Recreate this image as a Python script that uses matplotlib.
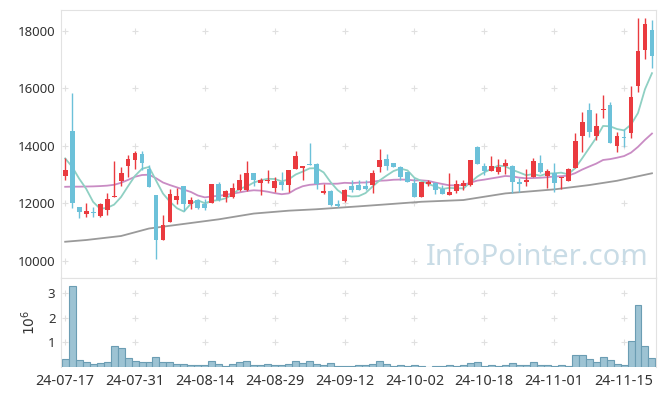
import numpy as np
import matplotlib
matplotlib.use('Agg')
import matplotlib.pyplot as plt
import pandas as pd

plt.rcParams['font.family'] = ['Noto Sans', 'DejaVu Sans']

# daily candles, 24-07-17 .. 24-11-21 (85 trading days)
opens = [12947, 14503, 11895, 11637, 11684, 11556, 11778, 12222, 12784, 13298,
         13509, 13719, 13216, 12281, 10737, 11345, 12105, 12596, 11988, 12129,
         11965, 12012, 12666, 12222, 12222, 12479, 12456, 13064, 12713, 12771,
         12537, 12748, 12655, 13216, 13251, 13368, 13368, 12362, 12420, 11988,
         12081, 12596, 12631, 12620, 12631, 13275, 13544, 13415, 13275, 13099,
         12713, 12222, 12690, 12713, 12514, 12292, 12432, 12596, 12631, 13977,
         13298, 13134, 13099, 13310, 13302, 12756, 12756, 12930, 13395, 12965,
         13046, 12872, 12791, 13221, 14349, 15256, 14349, 15233, 15430, 14000,
         14326, 14465, 16070, 17326, 18047]
highs = [13567, 15848, 11895, 12012, 11871, 12012, 12363, 13474, 13252, 13684,
         13836, 13836, 13333, 12281, 11602, 12515, 12550, 12596, 12222, 12164,
         12164, 12667, 12748, 12479, 12713, 13041, 13462, 13064, 12900, 13158,
         12924, 13100, 13158, 13836, 13310, 14094, 13415, 12666, 12456, 12128,
         12514, 12830, 12807, 12800, 13158, 13883, 13719, 13415, 13298, 13099,
         12900, 12748, 12807, 12748, 12631, 13064, 12807, 12830, 13509, 14000,
         13392, 13649, 13532, 13532, 13337, 12872, 13186, 13570, 13686, 13186,
         13395, 12930, 13221, 14442, 15174, 15489, 15140, 15779, 15512, 14500,
         14581, 16070, 18454, 18454, 18396]
lows = [12807, 11836, 11485, 11520, 11520, 11520, 11614, 12222, 12597, 12924,
        13216, 13181, 12573, 10059, 10737, 11345, 11965, 11754, 11812, 11812,
        11777, 12012, 12081, 12046, 12198, 12432, 12432, 12596, 12280, 12713,
        12397, 12479, 12397, 13216, 12830, 13333, 12514, 12339, 11929, 11894,
        12046, 12397, 12456, 12460, 12362, 13099, 13158, 13275, 12807, 12748,
        12222, 12222, 12596, 12315, 12315, 12292, 12362, 12456, 12596, 13368,
        12982, 13134, 13041, 13041, 12349, 12407, 12604, 12930, 13046, 12523,
        12407, 12500, 12791, 13221, 13802, 14326, 14209, 14965, 14093, 13802,
        13977, 14267, 15861, 17024, 16710]
closes = [13158, 12012, 11696, 11754, 11660, 11965, 12164, 12257, 13076, 13544,
          13766, 13392, 12573, 10737, 11263, 12339, 12269, 11988, 12105, 11836,
          11860, 12666, 12128, 12420, 12549, 12807, 13064, 12807, 12807, 12807,
          12771, 12655, 13158, 13649, 13310, 13333, 12690, 12420, 11952, 11929,
          12456, 12456, 12479, 12490, 13064, 13509, 13298, 13275, 12924, 12748,
          12222, 12748, 12748, 12479, 12339, 12397, 12690, 12713, 13509, 13368,
          13134, 13298, 13275, 13392, 12756, 12674, 12814, 13477, 13105, 13128,
          12721, 12930, 13186, 14174, 14826, 14500, 14698, 15279, 14116, 14349,
          14267, 15698, 17291, 18256, 17140]
# volume in millions of shares
volumes = [0.34, 3.29, 0.30, 0.18, 0.11, 0.14, 0.18, 0.84, 0.75, 0.38,
           0.22, 0.18, 0.18, 0.42, 0.18, 0.18, 0.10, 0.10, 0.07, 0.07,
           0.07, 0.26, 0.11, 0.03, 0.10, 0.18, 0.26, 0.07, 0.07, 0.10,
           0.07, 0.07, 0.10, 0.22, 0.15, 0.22, 0.10, 0.07, 0.14, 0.03,
           0.03, 0.03, 0.07, 0.07, 0.10, 0.22, 0.10, 0.02, 0.07, 0.03,
           0.07, 0.03, 0.00, 0.03, 0.03, 0.07, 0.03, 0.07, 0.14, 0.18,
           0.03, 0.07, 0.03, 0.07, 0.14, 0.07, 0.07, 0.18, 0.07, 0.07,
           0.03, 0.07, 0.03, 0.50, 0.50, 0.34, 0.18, 0.42, 0.30, 0.10,
           0.07, 1.07, 2.50, 0.84, 0.38]

# moving average values before enough days are in the window
ma5_head = [13567, 13275, 12865, 12514]
ma20_head = [12580, 12585, 12585, 12590, 12595, 12605, 12620, 12650, 12720, 12820,
             12930, 12990, 13000, 12880, 12730, 12640, 12560, 12480, 12400]
# long moving average (read at a few days)
ma_long_idx = [0, 3, 8, 12, 17, 22, 27, 32, 36, 42, 46, 51, 57, 63, 70, 75, 79, 84]
ma_long = [10670, 10730, 10870, 11130, 11290, 11450, 11650, 11750, 11800, 11900,
           11970, 12060, 12120, 12350, 12490, 12640, 12790, 13050]

tick_idx = [0, 10, 20, 30, 40, 50, 60, 70, 80]
tick_labels = ['24-07-17', '24-07-31', '24-08-14', '24-08-29', '24-09-12',
               '24-10-02', '24-10-18', '24-11-01', '24-11-15']
price_ticks = [10000, 12000, 14000, 16000, 18000]
vol_ticks = [1, 2, 3]

o = np.array(opens)
h = np.array(highs)
l = np.array(lows)
c = np.array(closes)
x = np.arange(len(c))

ma5 = pd.Series(c).rolling(5).mean().to_numpy()
ma5[:4] = ma5_head
ma20 = pd.Series(c).rolling(20).mean().to_numpy()
ma20[:19] = ma20_head

fig = plt.figure(figsize=(6.65, 3.96), dpi=100)
ax = fig.add_axes([0.0917, 0.298, 0.895, 0.677])
axv = fig.add_axes([0.0917, 0.0735, 0.895, 0.2245], sharex=ax)

red = '#ea3a3f'
blue = '#6cc1d9'
up = c >= o
col = np.where(up, red, blue)

# grid crosses
for a, ys in ((ax, price_ticks), (axv, vol_ticks)):
    gx, gy = np.meshgrid(tick_idx, ys)
    a.plot(gx.ravel(), gy.ravel(), '+', color='#e0e0e0', ms=4, mew=0.8, zorder=0)

ax.plot(ma_long_idx, ma_long, color='#9a9a9a', lw=1.3, zorder=1)
ax.plot(x, ma20, color='#c98cc4', lw=1.3, zorder=1)
ax.plot(x, ma5, color='#8fd0c3', lw=1.3, zorder=1)

ax.vlines(x, l, h, colors=col, lw=1.0, zorder=2)
body = np.abs(c - o)
body = np.maximum(body, 40)
ax.bar(x, body, bottom=np.minimum(o, c), width=0.7, color=col, zorder=3)

ax.text(0.987, 0.048, 'InfoPointer.com', transform=ax.transAxes, ha='right',
        va='baseline', fontsize=21, color='#c9dce6', zorder=0)

ax.set_xlim(-0.6, 84.6)
ax.set_ylim(9410, 18730)
ax.set_yticks(price_ticks)
ax.set_yticklabels([str(v) for v in price_ticks])

axv.bar(x, volumes, width=1.0, color='#9dc3d3', edgecolor='#6b9db3', lw=0.8)
axv.set_ylim(0, 3.62)
axv.set_yticks(vol_ticks)
axv.set_ylabel('$10^6$', fontsize=10, color='#333333', labelpad=6)
axv.set_xticks(tick_idx)
axv.set_xticklabels(tick_labels)

for a in (ax, axv):
    for s in a.spines.values():
        s.set_color('#e2e2e2')
    a.tick_params(length=0, labelsize=9.5, colors='#333333', pad=4)
ax.tick_params(labelbottom=False)
axv.tick_params(axis='x', labelsize=10.4, pad=5)
axv.spines['bottom'].set_visible(False)

fig.savefig('out.png', dpi=100)
